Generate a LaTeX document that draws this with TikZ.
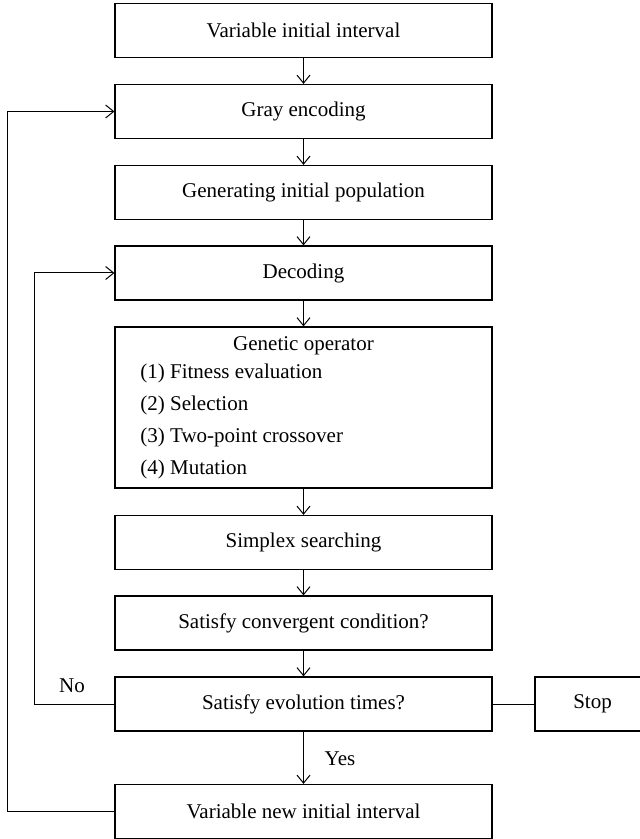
\documentclass[tikz,border=0pt]{standalone}
\usepackage{fontspec}
\setmainfont{Liberation Serif}
\usetikzlibrary{arrows.meta}

\begin{document}
\begin{tikzpicture}[x=0.5pt,y=-0.5pt]
	\tikzstyle{block}=[rectangle,draw=black,line width=0.6pt,minimum width=188.5pt,minimum height=27pt,inner sep=2pt,font=\fontsize{10.5}{12}\selectfont]
	\tikzstyle{txt}=[inner sep=0pt,font=\fontsize{10.5}{12}\selectfont]
	\tikzstyle{arr}=[line width=0.5pt,-{Straight Barb[length=4pt,width=6.5pt]}]
	\tikzstyle{ln}=[line width=0.5pt]
	\useasboundingbox (0,0) rectangle (639,839);
	\node[block] (vii) at (303.5,30.5) {Variable initial interval};
	\node[block] (gray) at (303.5,111.5) {Gray encoding};
	\node[block] (gen) at (303.5,192.5) {Generating initial population};
	\node[block] (dec) at (303.5,273) {Decoding};
	\node[block,minimum height=80.5pt] (op) at (303.5,407.5) {};
	\node[txt] (optitle) at (303.5,346) {Genetic operator};
	\node[txt,anchor=west] (op1) at (140,373) {(1) Fitness evaluation};
	\node[txt,anchor=west] (op2) at (140,405) {(2) Selection};
	\node[txt,anchor=west] (op3) at (140,437) {(3) Two-point crossover};
	\node[txt,anchor=west] (op4) at (140,469) {(4) Mutation};
	\node[block] (simp) at (303.5,542.5) {Simplex searching};
	\node[block] (conv) at (303.5,623) {Satisfy convergent condition?};
	\node[block] (evo) at (303.5,704) {Satisfy evolution times?};
	\node[block] (nii) at (303.5,811.5) {Variable new initial interval};
	\node[block,minimum width=57.5pt] (stop) at (592.5,704) {Stop};
	\draw[arr] (vii) -- (gray);
	\draw[arr] (gray) -- (gen);
	\draw[arr] (gen) -- (dec);
	\draw[arr] (dec) -- (op);
	\draw[arr] (op) -- (simp);
	\draw[arr] (simp) -- (conv);
	\draw[arr] (conv) -- (evo);
	\draw[arr] (evo) -- (nii);
	\draw[ln] (evo) -- (stop);
	\draw[arr] (evo.west) -- ++(-80,0) |- (dec.west);
	\draw[arr] (nii.west) -- ++(-107,0) |- (gray.west);
	\node[txt] (no) at (72,686) {No};
	\node[txt] (yes) at (340,759) {Yes};
\end{tikzpicture}
\end{document}
